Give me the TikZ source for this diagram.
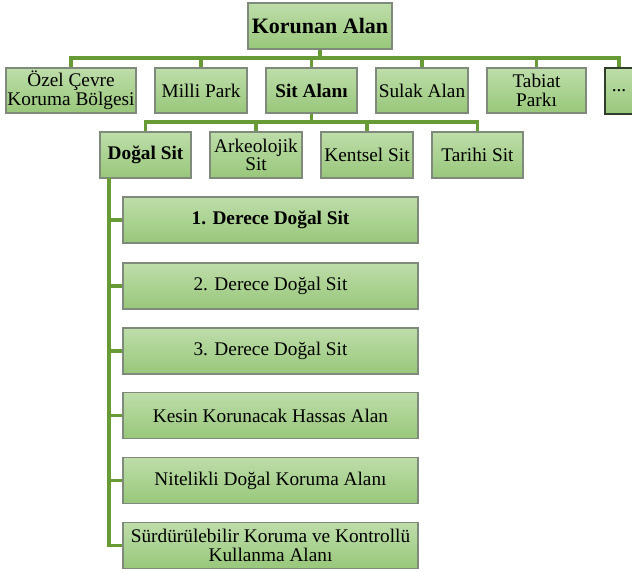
\documentclass[tikz,border=0pt]{standalone}
\usepackage{fontspec}
\setmainfont{Liberation Serif}
\definecolor{boxtop}{RGB}{190,221,170}
\definecolor{boxbot}{RGB}{152,199,122}
\definecolor{boxedge}{RGB}{128,138,124}
\definecolor{linegreen}{RGB}{104,154,54}
\definecolor{darkedge}{RGB}{50,62,44}
\tikzset{
  gbox/.style={draw=boxedge, line width=1.2pt, top color=boxtop, bottom color=boxbot,
    inner sep=0pt, align=center, font=\fontsize{19.3}{18.5}\selectfont},
  conn/.style={draw=linegreen, line width=3.2pt},
}
\begin{document}
\begin{tikzpicture}[x=1pt,y=-1pt]
\useasboundingbox (0,0) rectangle (632,571);
\begin{scope}
\clip (0,0) rectangle (632,571);
% top
\node[gbox, minimum width=144pt, minimum height=46pt, font=\fontsize{22}{22}\selectfont\bfseries] (top) at (320,26) {Korunan Alan};
% level 1
\node[gbox, minimum width=130pt, minimum height=45pt] (ozel) at (71,90.5) {Özel Çevre\\Koruma Bölgesi};
\node[gbox, minimum width=92pt, minimum height=45pt] (milli) at (201,90.5) {Milli Park};
\node[gbox, minimum width=91pt, minimum height=45pt, font=\fontsize{19.3}{18.5}\selectfont\bfseries] (sit) at (311.5,90.5) {Sit Alanı};
\node[gbox, minimum width=92pt, minimum height=45pt] (sulak) at (422,90.5) {Sulak Alan};
\node[gbox, minimum width=99pt, minimum height=45pt] (tabiat) at (536.5,90.5) {Tabiat\\Parkı};
\node[gbox, draw=darkedge, minimum width=28pt, minimum height=46pt] (dots) at (619,91) {...};
% level 2
\node[gbox, minimum width=91pt, minimum height=46pt, font=\fontsize{19.3}{18.5}\selectfont\bfseries] (dogal) at (145.5,155) {Doğal Sit};
\node[gbox, minimum width=92pt, minimum height=46pt] (ark) at (256,155) {Arkeolojik\\Sit};
\node[gbox, minimum width=92pt, minimum height=46pt] (kentsel) at (367,155) {Kentsel Sit};
\node[gbox, minimum width=91pt, minimum height=46pt] (tarihi) at (477.5,155) {Tarihi Sit};
% level 3
\node[gbox, minimum width=295pt, minimum height=46pt, font=\fontsize{19.3}{18.5}\selectfont\bfseries] (d1) at (270.5,220) {1. Derece Doğal Sit};
\node[gbox, minimum width=295pt, minimum height=46pt] (d2) at (270.5,286) {2. Derece Doğal Sit};
\node[gbox, minimum width=295pt, minimum height=46pt] (d3) at (270.5,351) {3. Derece Doğal Sit};
\node[gbox, minimum width=295pt, minimum height=46pt] (d4) at (270.5,415.5) {Kesin Korunacak Hassas Alan};
\node[gbox, minimum width=295pt, minimum height=46pt] (d5) at (270.5,480.5) {Nitelikli Doğal Koruma Alanı};
\node[gbox, minimum width=295pt, minimum height=46pt, font=\fontsize{19.3}{19.5}\selectfont] (d6) at (270.5,545.5) {Sürdürülebilir Koruma ve Kontrollü\\Kullanma Alanı};
\end{scope}
% connectors level 0 -> 1
\coordinate (bus1) at (320,58);
\path[conn] (top.south) -- (bus1);
\foreach \n in {ozel,milli,sit,sulak,tabiat,dots}{
  \path[conn] (bus1) -| (\n.north);
}
% level 1 -> 2
\coordinate (bus2) at (311.5,122);
\path[conn] (sit.south) -- (bus2);
\foreach \n in {dogal,ark,kentsel,tarihi}{
  \path[conn] (bus2) -| (\n.north);
}
% level 2 -> 3
\coordinate (trunk) at (109,178);
\path[conn] (trunk) |- (d6.west);
\foreach \n in {d1,d2,d3,d4,d5}{
  \path[conn] (trunk) |- (\n.west);
}
\end{tikzpicture}
\end{document}
